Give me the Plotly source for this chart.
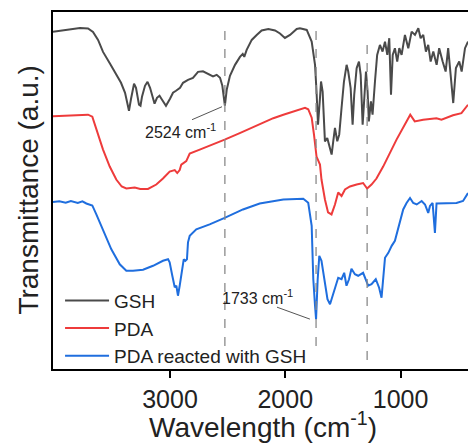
import plotly.graph_objects as go

# ---------------- data (wavenumber in cm-1, transmittance in a.u.) ----------------
gsh_wn = [4015, 3902, 3781, 3711, 3668, 3624, 3581, 3520, 3468, 3425,
          3390, 3373, 3356, 3338, 3312, 3295, 3269, 3256, 3243, 3217,
          3195, 3173, 3156, 3134, 3113, 3091, 3069, 3035, 3000, 2974,
          2948, 2913, 2887, 2844, 2801, 2757, 2714, 2670, 2627, 2595,
          2566, 2546, 2524, 2508, 2480, 2436, 2393, 2369, 2356, 2335,
          2291, 2248, 2205, 2147, 2089, 2046, 2003, 1959, 1901,
          1873, 1814, 1771, 1742, 1729, 1716, 1699, 1690, 1676, 1664,
          1656, 1636, 1612, 1598, 1584, 1569, 1549, 1532, 1512, 1491,
          1468, 1454, 1433, 1416, 1402, 1381, 1361, 1346, 1329, 1315,
          1300, 1286, 1275, 1257, 1243, 1222, 1203, 1179, 1156, 1135,
          1115, 1098, 1083, 1068, 1049, 1029, 1011, 991, 962, 933,
          904, 875, 846, 826, 803, 780, 760, 739, 716, 687,
          665, 635, 609, 587, 566, 543, 520, 491, 470, 441,
          415]
gsh_t = [338.3, 340, 342, 341.5, 338, 330, 318, 306, 295, 287,
         277, 268, 259, 271, 286, 282, 265, 264, 273, 284,
         288, 282, 274, 266, 272, 274, 270, 264, 271, 277,
         279, 282, 287, 290, 292, 298, 298.5, 296, 293.5, 295,
         292, 284, 264, 280, 294, 305, 313, 316, 313, 320,
         330, 335, 339.5, 341, 339.5, 336.5, 332, 335, 341,
         341.7, 340, 328.3, 305, 278.3, 245, 271.7, 288.3, 278.3, 245,
         228.3, 231.7, 221.7, 215, 228.3, 241.7, 228.3, 235, 261.7, 288.3,
         305, 298.3, 281.7, 245, 275, 301.7, 308.3, 295, 245, 271.7,
         298.3, 278.3, 248.3, 268.3, 255, 288.3, 315, 325, 318.3, 328.3,
         315, 331.7, 275, 315, 321.7, 308.3, 321.7, 315, 335, 321.7,
         338.3, 335, 341.7, 331.7, 335, 318.3, 325, 308.3, 318.3, 305,
         321.7, 308.3, 298.3, 321.7, 298.3, 266.7, 301.7, 308.3, 298.3, 321.7,
         328.3]

pda_wn = [4015, 3867, 3711, 3674, 3639, 3581, 3523, 3466, 3419, 3379,
          3306, 3258, 3191, 3119, 3061, 3003, 2959, 2937, 2916, 2902,
          2859, 2829, 2742, 2627, 2526, 2395, 2309, 2280, 2193, 2104,
          2017, 1959, 1873, 1829, 1801, 1771, 1751, 1729, 1699, 1686,
          1656, 1629, 1599, 1569, 1541, 1512, 1482, 1439, 1381, 1325,
          1290, 1252, 1209, 1151, 1035, 949, 916, 877, 804, 689,
          645, 545, 472, 415]
pda_t = [253.5, 254, 255, 253, 240, 220, 203, 190, 183, 181,
         182, 180.5, 180.5, 185, 191, 198, 199.5, 196.5, 199.5, 205,
         208.5, 216, 220, 225, 230, 236.5, 241, 243, 247, 251.5,
         255, 257, 260, 262, 260.5, 252, 235, 213, 205, 190,
         170, 157, 155, 165, 177, 173.5, 180, 183, 185, 186.5,
         181, 185, 191, 203, 230, 247, 255, 248.3, 250, 251.5,
         250, 254.5, 256.5, 265]

pdag_wn = [4015, 3960, 3905, 3860, 3800, 3760, 3726, 3674, 3639, 3581,
           3509, 3436, 3379, 3321, 3234, 3147, 3061, 3017, 3003, 2980,
           2959, 2945, 2931, 2916, 2893, 2881, 2867, 2853, 2844, 2829,
           2772, 2656, 2526, 2367, 2222, 2135, 2017, 1844, 1801, 1771,
           1757, 1742, 1733, 1719, 1705, 1686, 1656, 1634, 1612, 1584,
           1541, 1512, 1489, 1469, 1447, 1426, 1396, 1368, 1325, 1281,
           1252, 1215, 1186, 1165, 1151, 1135, 1106, 1077, 1049, 1035,
           1005, 977, 948, 918, 890, 860, 817, 788, 760, 745,
           722, 702, 688, 631, 515, 458, 415]
pdag_t = [167.5, 168.2, 166.8, 168.5, 166.5, 168.2, 166, 164, 155, 140,
          120, 105, 98.5, 98.5, 99.5, 103.5, 108.5, 110, 107, 93.5,
          82, 83.5, 73.5, 83.5, 103.5, 110, 108.5, 110, 127, 133.5,
          140, 145, 151.5, 160, 166, 168, 170, 170.7, 166.7, 143.5,
          90, 63.5, 50, 90, 113.5, 108.5, 86.5, 70, 65, 75,
          91.5, 90, 96.5, 83.5, 90, 100.5, 95, 93.5, 96.5, 83.5,
          85, 90, 81.5, 71.5, 90, 111.5, 116.5, 123.5, 128.5, 135,
          150, 160, 166.5, 171.5, 166.5, 165, 168.5, 165, 156.5, 163.5,
          166.5, 136.5, 166, 166, 166.5, 168.5, 176.5]

series_names = ["GSH", "PDA", "PDA reacted with GSH"]
series_colors = ["#4a4a4a", "#ee3b3b", "#1f6ede"]

marked_peaks = [2524, 1733, 1290]
peak_labels = ["2524 cm<sup>-1</sup>", "1733 cm<sup>-1</sup>"]
x_ticks = [3000, 2000, 1000]

FONT = "Arial, Liberation Sans, sans-serif"

fig = go.Figure()
for wn, t, name, col in zip([gsh_wn, pda_wn, pdag_wn], [gsh_t, pda_t, pdag_t],
                            series_names, series_colors):
    fig.add_trace(go.Scatter(x=wn, y=t, mode="lines", name=name,
                             line=dict(color=col, width=2)))

# dashed marker lines
dash_spans = [(23, 342), (23, 342), (9, 328)]
for xp, (y0, y1) in zip(marked_peaks, dash_spans):
    fig.add_shape(type="line", xref="x", yref="y", x0=xp, x1=xp, y0=y0, y1=y1,
                  line=dict(color="#8a8a8a", width=1.3, dash="dash"))

# leader lines for peak labels
fig.add_shape(type="line", xref="x", yref="y", x0=2809, y0=250, x1=2549, y1=263,
              line=dict(color="#555555", width=1))
fig.add_shape(type="line", xref="x", yref="y", x0=2072, y0=62, x1=1786, y1=50,
              line=dict(color="#555555", width=1))

fig.add_annotation(x=3234, y=239, xref="x", yref="y", text=peak_labels[0],
                   showarrow=False, xanchor="left", yanchor="middle",
                   font=dict(family=FONT, size=16, color="#222222"))
fig.add_annotation(x=2566, y=72, xref="x", yref="y", text=peak_labels[1],
                   showarrow=False, xanchor="left", yanchor="middle",
                   font=dict(family=FONT, size=16, color="#222222"))

# axis titles
fig.add_annotation(x=-0.060, y=0.5, xref="paper", yref="paper",
                   xanchor="center", yanchor="middle",
                   text="Transmittance (a.u.)", textangle=-90, showarrow=False,
                   font=dict(family=FONT, size=28, color="#222222"))
fig.add_annotation(x=0.505, y=-0.157, xref="paper", yref="paper",
                   xanchor="center", yanchor="middle",
                   text="Wavelength (cm<sup>-1</sup>)", showarrow=False,
                   font=dict(family=FONT, size=28, color="#222222"))

fig.update_layout(
    width=468, height=444,
    margin=dict(l=53, r=0, t=12, b=75),
    paper_bgcolor="white", plot_bgcolor="white",
    font=dict(family=FONT, color="#222222"),
    showlegend=True,
    legend=dict(x=0.017, y=0.245, xanchor="left", yanchor="top",
                bgcolor="rgba(0,0,0,0)", borderwidth=0,
                font=dict(family=FONT, size=19, color="#222222"),
                itemwidth=44, tracegroupgap=0),
    xaxis=dict(range=[4015, 415], showgrid=False, zeroline=False,
               showline=True, linecolor="black", linewidth=2, mirror=True,
               ticks="outside", ticklen=7, tickwidth=1.5, tickcolor="black",
               tickvals=x_ticks, ticktext=[str(v) for v in x_ticks],
               tickfont=dict(family=FONT, size=25, color="#222222")),
    yaxis=dict(range=[0, 358], showgrid=False, zeroline=False,
               showline=True, linecolor="black", linewidth=2,
               showticklabels=False, ticks=""),
)

fig.write_html("out.html")
